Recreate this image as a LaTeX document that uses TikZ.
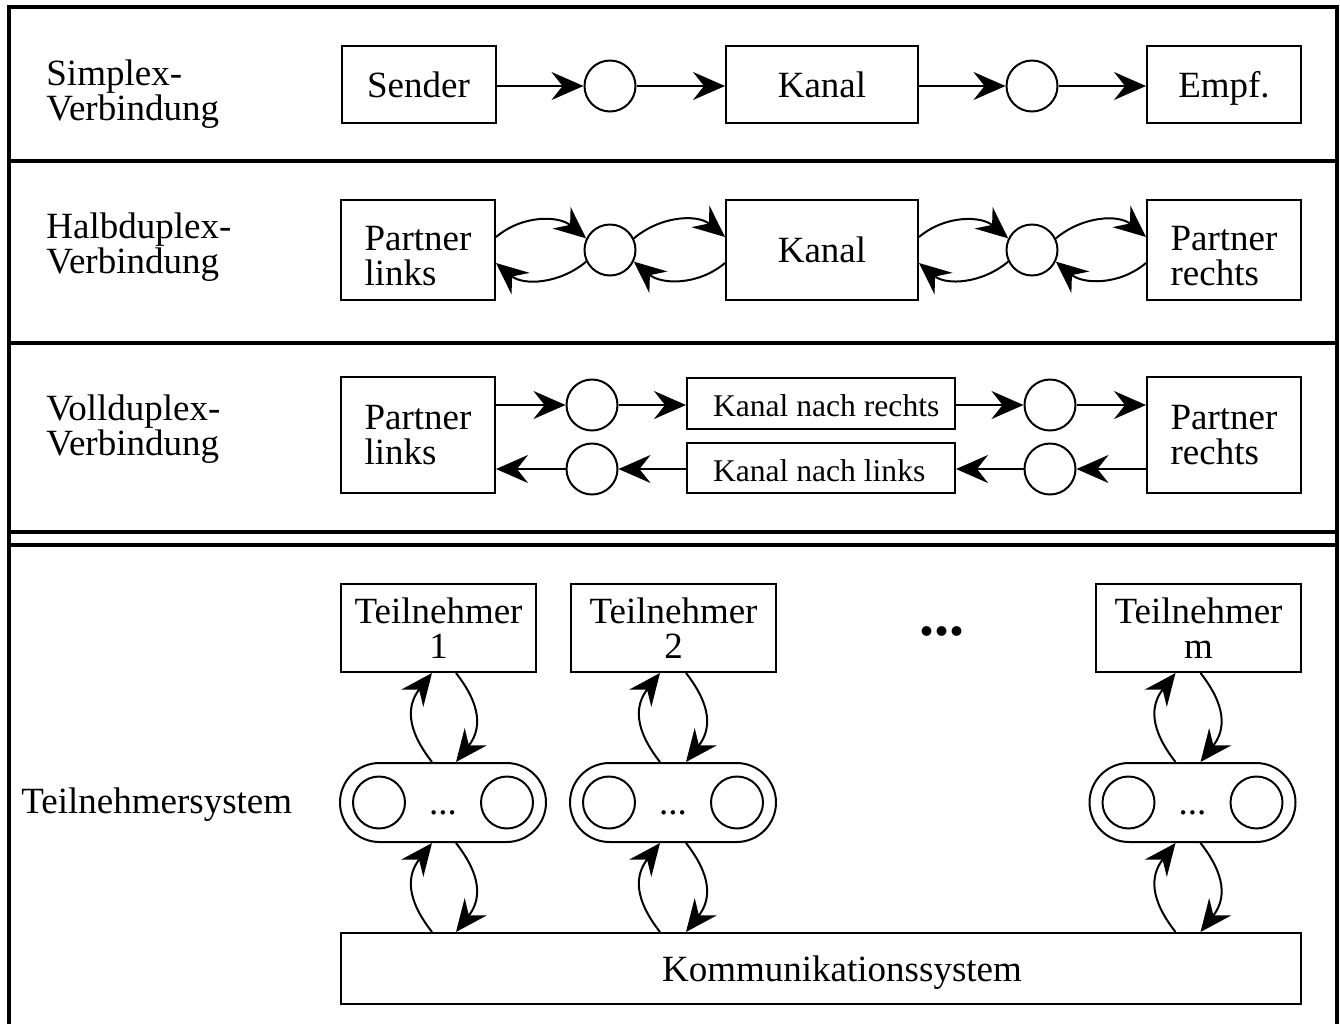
\documentclass[tikz,border=0pt]{standalone}
\usepackage{fontspec}
\setmainfont{Liberation Serif}
\usetikzlibrary{arrows.meta}
\newcommand\bigtxt{\fontsize{18.5}{17.5}\selectfont}
\newcommand\smalltxt{\fontsize{15.8}{17}\selectfont}

\begin{document}
\begin{tikzpicture}[x=0.5pt,y=0.5pt,
  box/.style={draw, line width=1pt, inner sep=0pt, font=\bigtxt},
  nodesc/.style={text height=12.7pt, text depth=0pt},
  circ/.style={circle, draw, line width=1pt, inner sep=0pt, minimum size=25.5pt},
  arr/.style={line width=1pt, -{Stealth[length=16pt,width=14pt,inset=5.5pt]}},
  rowlabel/.style={anchor=west, align=left, inner sep=0pt, font=\bigtxt},
  frame/.style={line width=2pt},
  stadium/.style={draw, line width=1pt, rounded corners=19.75pt, minimum width=103pt, minimum height=39.5pt, inner sep=0pt},
  kanalbox/.style={draw, line width=1pt, inner ysep=0pt, inner xsep=13pt, minimum width=134pt, text height=13pt, text depth=0pt, font=\smalltxt},
]
\useasboundingbox (0,0) rectangle (1340,-1024);

% outer frame and section rules
\draw[frame] (8.5,-1024) -- (8.5,-7) -- (1336.5,-7) -- (1336.5,-1024);
\draw[frame] (8.5,-160.5) -- (1336.5,-160.5);
\draw[frame] (8.5,-342.5) -- (1336.5,-342.5);
\draw[frame] (8.5,-532) -- (1336.5,-532);
\draw[frame] (8.5,-544.5) -- (1336.5,-544.5);

% ---------- Simplex ----------
\node[rowlabel] (lab1) at (46,-94) {Simplex-\\Verbindung};
\node[box, nodesc, minimum width=77pt, minimum height=38.5pt] (sender) at (418.5,-84.5) {Sender};
\node[circ] (c11) at (610,-86) {};
\node[box, nodesc, minimum width=96pt, minimum height=38.5pt] (kanal1) at (822,-84.5) {Kanal};
\node[circ] (c12) at (1032,-86) {};
\node[box, nodesc, minimum width=77pt, minimum height=38.5pt] (empf) at (1224,-84.5) {Empf.};
\draw[arr] (sender.east |- c11) -- (c11);
\draw[arr] (c11) -- (c11 -| kanal1.west);
\draw[arr] (kanal1.east |- c12) -- (c12);
\draw[arr] (c12) -- (c12 -| empf.west);

% ---------- Halbduplex ----------
\node[rowlabel] (lab2) at (46,-247) {Halbduplex-\\Verbindung};
\node[box, align=left, text height=35.75pt, text depth=0pt, minimum width=77pt, minimum height=50pt] (pl2) at (418,-250) {Partner\\links};
\node[circ] (c21) at (610,-250) {};
\node[box, nodesc, minimum width=96pt, minimum height=50pt] (kanal2) at (822,-250) {Kanal};
\node[circ] (c22) at (1032,-250) {};
\node[box, align=left, text height=35.75pt, text depth=0pt, minimum width=77pt, minimum height=50pt] (pr2) at (1224,-250) {Partner\\rechts};
\draw[arr] ([yshift=6.5pt]pl2.east) to[out=40,in=140] (c21.154);
\draw[arr] (c21.-154) to[out=-140,in=-40] ([yshift=-6.5pt]pl2.east);
\draw[arr] (c21.26) to[out=40,in=140] ([yshift=6.5pt]kanal2.west);
\draw[arr] ([yshift=-6.5pt]kanal2.west) to[out=-140,in=-40] (c21.-26);
\draw[arr] ([yshift=6.5pt]kanal2.east) to[out=40,in=140] (c22.154);
\draw[arr] (c22.-154) to[out=-140,in=-40] ([yshift=-6.5pt]kanal2.east);
\draw[arr] (c22.26) to[out=40,in=140] ([yshift=6.5pt]pr2.west);
\draw[arr] ([yshift=-6.5pt]pr2.west) to[out=-140,in=-40] (c22.-26);

% ---------- Vollduplex ----------
\node[rowlabel] (lab3) at (46,-429) {Vollduplex-\\Verbindung};
\node[box, align=left, minimum width=77pt, minimum height=58pt] (pl3) at (418,-435) {Partner\\links};
\node[box, align=left, minimum width=77pt, minimum height=58pt] (pr3) at (1224,-435) {Partner\\rechts};
\node[circ] (c31) at (592,-405) {};
\node[circ] (c32) at (592,-469) {};
\node[circ] (c33) at (1050,-405) {};
\node[circ] (c34) at (1050,-469) {};
\node[kanalbox, minimum height=25.5pt] (kr) at (821,-403.5) {\makebox[108pt][l]{Kanal nach rechts}};
\node[kanalbox, minimum height=25pt] (kl) at (821,-468) {\makebox[108pt][l]{Kanal nach links}};
\draw[arr] (pl3.east |- c31) -- (c31);
\draw[arr] (c31) -- (c31 -| kr.west);
\draw[arr] (kr.east |- c33) -- (c33);
\draw[arr] (c33) -- (c33 -| pr3.west);
\draw[arr] (pr3.west |- c34) -- (c34);
\draw[arr] (c34) -- (c34 -| kl.east);
\draw[arr] (kl.west |- c32) -- (c32);
\draw[arr] (c32) -- (c32 -| pl3.east);

% ---------- Teilnehmersystem ----------
\node[rowlabel] (lab4) at (21,-805) {Teilnehmersystem};
\node[box, align=center, minimum width=97.5pt, minimum height=44pt] (t1) at (438.5,-628) {Teilnehmer\\1};
\node[box, align=center, minimum width=102.5pt, minimum height=44pt] (t2) at (673.5,-628) {Teilnehmer\\2};
\node[box, align=center, minimum width=102.5pt, minimum height=44pt] (tm) at (1198.5,-628) {Teilnehmer\\m};
\node[inner sep=0pt, font=\fontsize{30}{30}\selectfont\bfseries] (dots) at (942,-631) {...};

\foreach \s/\cx in {s1/443, s2/673, sm/1192.5} {
  \node[stadium] (\s) at (\cx,-802.5) {};
  \node[circ, minimum size=26pt] (\s a) at ([xshift=-32pt]\s.center) {};
  \node[circ, minimum size=26pt] (\s b) at ([xshift=32pt]\s.center) {};
  \node[inner sep=0pt, anchor=base, font=\bigtxt] (\s d) at (\cx,-814) {...};
}

\node[box, nodesc, minimum width=480pt, minimum height=35.5pt] (komm) at (821,-968.5) {\hspace*{21pt}Kommunikationssystem};

\foreach \s/\t/\l/\r in {s1/t1/-5.5/6.5, s2/t2/-6.5/6.5, sm/tm/-8.5/4} {
  \path ([xshift=\l pt]\s.north) coordinate (nl)
        ([xshift=\r pt]\s.north) coordinate (nr)
        ([xshift=\l pt]\s.south) coordinate (sl)
        ([xshift=\r pt]\s.south) coordinate (sr);
  \draw[arr] (nl) to[out=128,in=-128,looseness=1.2] (nl |- \t.south);
  \draw[arr] (nr |- \t.south) to[out=-52,in=52,looseness=1.2] (nr);
  \draw[arr] (sl |- komm.north) to[out=128,in=-128,looseness=1.2] (sl);
  \draw[arr] (sr) to[out=-52,in=52,looseness=1.2] (sr |- komm.north);
}
\end{tikzpicture}
\end{document}
